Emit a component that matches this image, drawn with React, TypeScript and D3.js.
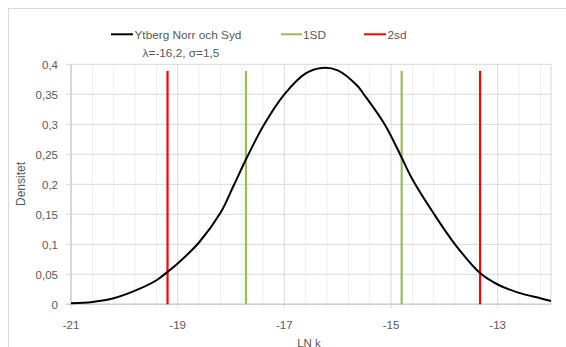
import React from "react";
import * as d3 from "d3";

const densX = [-21, -20.6, -20.2, -19.71, -19.39, -19.19, -19.0, -18.6, -18.2, -17.95, -17.7, -17.39, -17.0, -16.6, -16.3, -16.0, -15.64, -15.51, -15.12, -14.83, -14.61, -14.19, -13.8, -13.33, -13.0, -12.6, -12.2, -12.0];
const densY = [0.0017, 0.004, 0.010, 0.026, 0.0405, 0.054, 0.068, 0.103, 0.152, 0.198, 0.245, 0.298, 0.35, 0.385, 0.394, 0.39, 0.365, 0.35, 0.30, 0.25, 0.21, 0.15, 0.10, 0.052, 0.033, 0.019, 0.010, 0.0055];
const sd1X = [-17.72, -14.8];
const sd2X = [-19.19, -13.33];
const lineTop = 0.389;
const xTickValues = [-21, -19, -17, -15, -13];
const yTickValues = [0, 0.05, 0.1, 0.15, 0.2, 0.25, 0.3, 0.35, 0.4];
const legendNames = ["Ytberg Norr och Syd", "1SD", "2sd"];
const legendSub = "λ=-16,2, σ=1,5";
const yTitle = "Densitet";
const xTitle = "LN k";

const W = 566, H = 347;
const L = 71, R = 551, T = 64.3, B = 304.3;
const FONT = "'Liberation Sans', Arial, sans-serif";
const TXT = "#595959";

export default function App() {
  const x = d3.scaleLinear().domain([-21, -12]).range([L, R]);
  const y = d3.scaleLinear().domain([0, 0.4]).range([B, T]);
  const minorX = d3.range(0, 23).map((i) => -21 + i * 0.4).filter((v) => v <= -12.0001);
  const pts: [number, number][] = densX.map((v, i) => [v, densY[i]]);
  const line = d3.line<[number, number]>().x((d) => x(d[0])).y((d) => y(d[1])).curve(d3.curveCatmullRom.alpha(0.5));
  const fmt = (v: number) => String(+v.toFixed(2)).replace(".", ",");
  const isMajor = (v: number) => xTickValues.some((t) => Math.abs(t - v) < 1e-6);

  return (
    <svg width={W} height={H} style={{ position: "absolute", left: 0, top: 0, background: "#fff" }} fontFamily={FONT}>
      <rect x={8.5} y={8.5} width={570} height={360} fill="#fff" stroke="#d9d9d9" strokeWidth={1} />
      {minorX.filter((v) => !isMajor(v)).map((v, i) => (
        <line key={"mv" + i} x1={x(v)} x2={x(v)} y1={T} y2={B + 4} stroke="#eeeeee" strokeWidth={1} />
      ))}
      {yTickValues.map((v, i) => (
        <line key={"h" + i} x1={L - 5} x2={R} y1={y(v)} y2={y(v)} stroke="#d9d9d9" strokeWidth={1} />
      ))}
      {xTickValues.map((v, i) => (
        <line key={"Mv" + i} x1={x(v)} x2={x(v)} y1={T} y2={B + 4} stroke="#d9d9d9" strokeWidth={1} />
      ))}
      <line x1={R} x2={R} y1={T} y2={B} stroke="#d9d9d9" strokeWidth={1} />
      <line x1={L} x2={L} y1={T} y2={B} stroke="#d0d0d0" strokeWidth={1.5} />
      <line x1={L - 5} x2={R} y1={B} y2={B} stroke="#d0d0d0" strokeWidth={1.5} />
      {yTickValues.map((v, i) => (
        <text key={"yl" + i} x={58} y={y(v) + 4.2} textAnchor="end" fontSize={11.5} fill={TXT}>{fmt(v)}</text>
      ))}
      {xTickValues.map((v, i) => (
        <text key={"xl" + i} x={x(v)} y={328.5} textAnchor="middle" fontSize={11.5} fill={TXT}>{String(v)}</text>
      ))}
      {sd1X.map((v, i) => (
        <line key={"g" + i} x1={x(v)} x2={x(v)} y1={y(0)} y2={y(lineTop)} stroke="#9BBB59" strokeWidth={2.2} />
      ))}
      {sd2X.map((v, i) => (
        <line key={"r" + i} x1={x(v)} x2={x(v)} y1={y(0)} y2={y(lineTop)} stroke="#FF0000" strokeWidth={2.2} />
      ))}
      <path d={line(pts) || ""} fill="none" stroke="#000" strokeWidth={2} />
      <text transform={`translate(24.5,184) rotate(-90)`} textAnchor="middle" fontSize={12} fill={TXT}>{yTitle}</text>
      <text x={309} y={346.5} textAnchor="middle" fontSize={11.5} fill={TXT}>{xTitle}</text>
      <line x1={111} x2={133} y1={34.3} y2={34.3} stroke="#000" strokeWidth={2} />
      <text x={134.5} y={38.5} fontSize={11.8} fill={TXT}>{legendNames[0]}</text>
      <text x={181} y={57} textAnchor="middle" fontSize={11.8} fill={TXT}>{legendSub}</text>
      <line x1={281} x2={302} y1={34.3} y2={34.3} stroke="#9BBB59" strokeWidth={2} />
      <text x={303} y={38.5} fontSize={11.8} fill={TXT}>{legendNames[1]}</text>
      <line x1={364} x2={386} y1={34.3} y2={34.3} stroke="#FF0000" strokeWidth={2} />
      <text x={387.5} y={38.5} fontSize={11.8} fill={TXT}>{legendNames[2]}</text>
    </svg>
  );
}
